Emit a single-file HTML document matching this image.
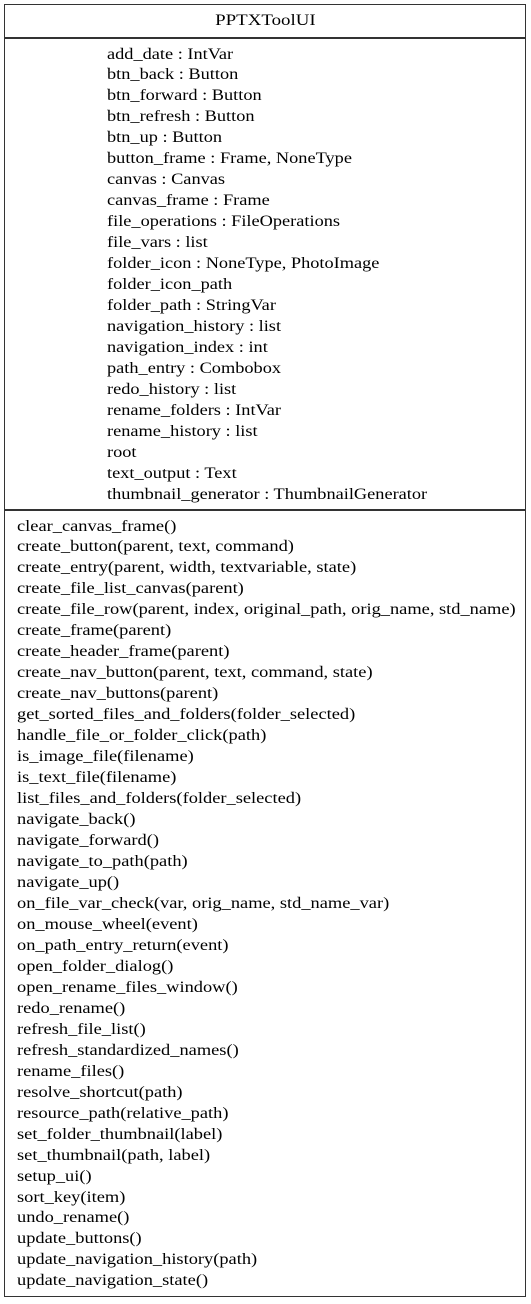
<!DOCTYPE html>
<html><head><style>
html,body{margin:0;padding:0;background:#fff;}
body{width:531px;height:1304px;position:relative;font-family:"Liberation Serif",serif;font-size:16px;color:#000;overflow:hidden;}
.box{position:absolute;left:4px;top:4px;width:522px;height:1293px;border:1.5px solid #333;box-sizing:border-box;}
.hl{position:absolute;left:4px;width:522px;height:1.5px;background:#333;}
.t{position:absolute;white-space:pre;line-height:20.97px;transform-origin:0 0;transform:scaleX(1.145);}
</style></head><body>
<div class="box"></div>
<div class="hl" style="top:37px"></div>
<div class="hl" style="top:509px"></div>
<div class="t" style="left:0;width:531px;text-align:center;top:10px;line-height:21px;transform:scaleX(1.18);transform-origin:266px 0">PPTXToolUI</div>
<div class="t" style="left:107px;top:44.5px">add_date : IntVar
btn_back : Button
btn_forward : Button
btn_refresh : Button
btn_up : Button
button_frame : Frame, NoneType
canvas : Canvas
canvas_frame : Frame
file_operations : FileOperations
file_vars : list
folder_icon : NoneType, PhotoImage
folder_icon_path
folder_path : StringVar
navigation_history : list
navigation_index : int
path_entry : Combobox
redo_history : list
rename_folders : IntVar
rename_history : list
root
text_output : Text
thumbnail_generator : ThumbnailGenerator</div>
<div class="t" style="left:17px;top:516.5px;transform:scaleX(1.15)">clear_canvas_frame()
create_button(parent, text, command)
create_entry(parent, width, textvariable, state)
create_file_list_canvas(parent)
create_file_row(parent, index, original_path, orig_name, std_name)
create_frame(parent)
create_header_frame(parent)
create_nav_button(parent, text, command, state)
create_nav_buttons(parent)
get_sorted_files_and_folders(folder_selected)
handle_file_or_folder_click(path)
is_image_file(filename)
is_text_file(filename)
list_files_and_folders(folder_selected)
navigate_back()
navigate_forward()
navigate_to_path(path)
navigate_up()
on_file_var_check(var, orig_name, std_name_var)
on_mouse_wheel(event)
on_path_entry_return(event)
open_folder_dialog()
open_rename_files_window()
redo_rename()
refresh_file_list()
refresh_standardized_names()
rename_files()
resolve_shortcut(path)
resource_path(relative_path)
set_folder_thumbnail(label)
set_thumbnail(path, label)
setup_ui()
sort_key(item)
undo_rename()
update_buttons()
update_navigation_history(path)
update_navigation_state()</div>
</body></html>
